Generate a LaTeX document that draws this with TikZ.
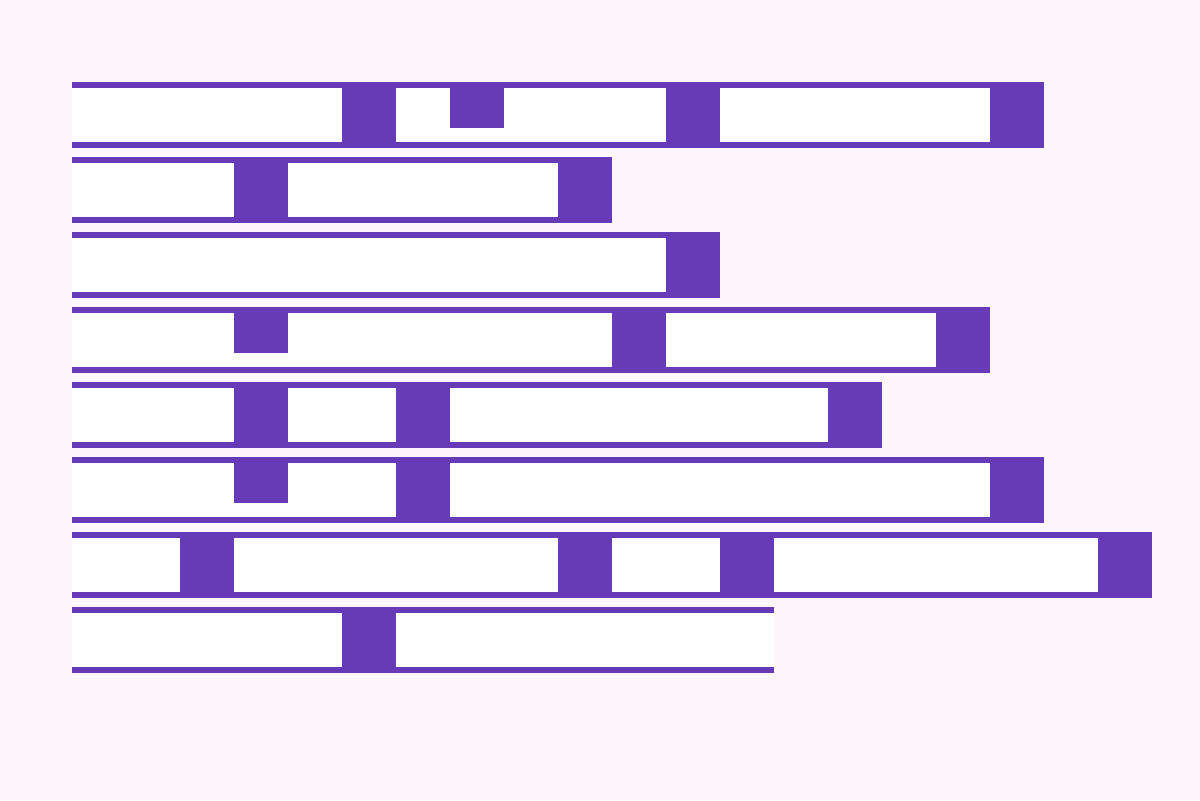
\documentclass[tikz,border=0pt]{standalone}
\definecolor{bg}{HTML}{FFF5FC}
\definecolor{pu}{HTML}{673AB7}
\tikzset{band/.style={fill=pu}, cell/.style={fill=white}}
\newcommand\myrow[4]{%
  \pgfmathsetmacro\yt{81.5+75*#1}%
  \fill[band] (72,\yt) rectangle ({72+54*#2},{\yt+66});
  \foreach \a/\b in {#3} {\fill[cell] ({72+54*\a},{\yt+6.5}) rectangle ({72+54*\b},{\yt+60.5});}
  \foreach \n in {#4} {\fill[band] ({72+54*\n},\yt) rectangle ({126+54*\n},{\yt+46.5});}
}
\begin{document}
\begin{tikzpicture}[x=0.5pt,y=-0.5pt]
\fill[bg] (0,0) rectangle (1200,800);
\useasboundingbox (0,0) rectangle (1200,800);
\myrow{0}{18}{0/5,6/11,12/17}{7}
\myrow{1}{10}{0/3,4/9}{}
\myrow{2}{12}{0/11}{}
\myrow{3}{17}{0/10,11/16}{3}
\myrow{4}{15}{0/3,4/6,7/14}{}
\myrow{5}{18}{0/6,7/17}{3}
\myrow{6}{20}{0/2,3/9,10/12,13/19}{}
\myrow{7}{13}{0/5,6/13}{}
\end{tikzpicture}
\end{document}
